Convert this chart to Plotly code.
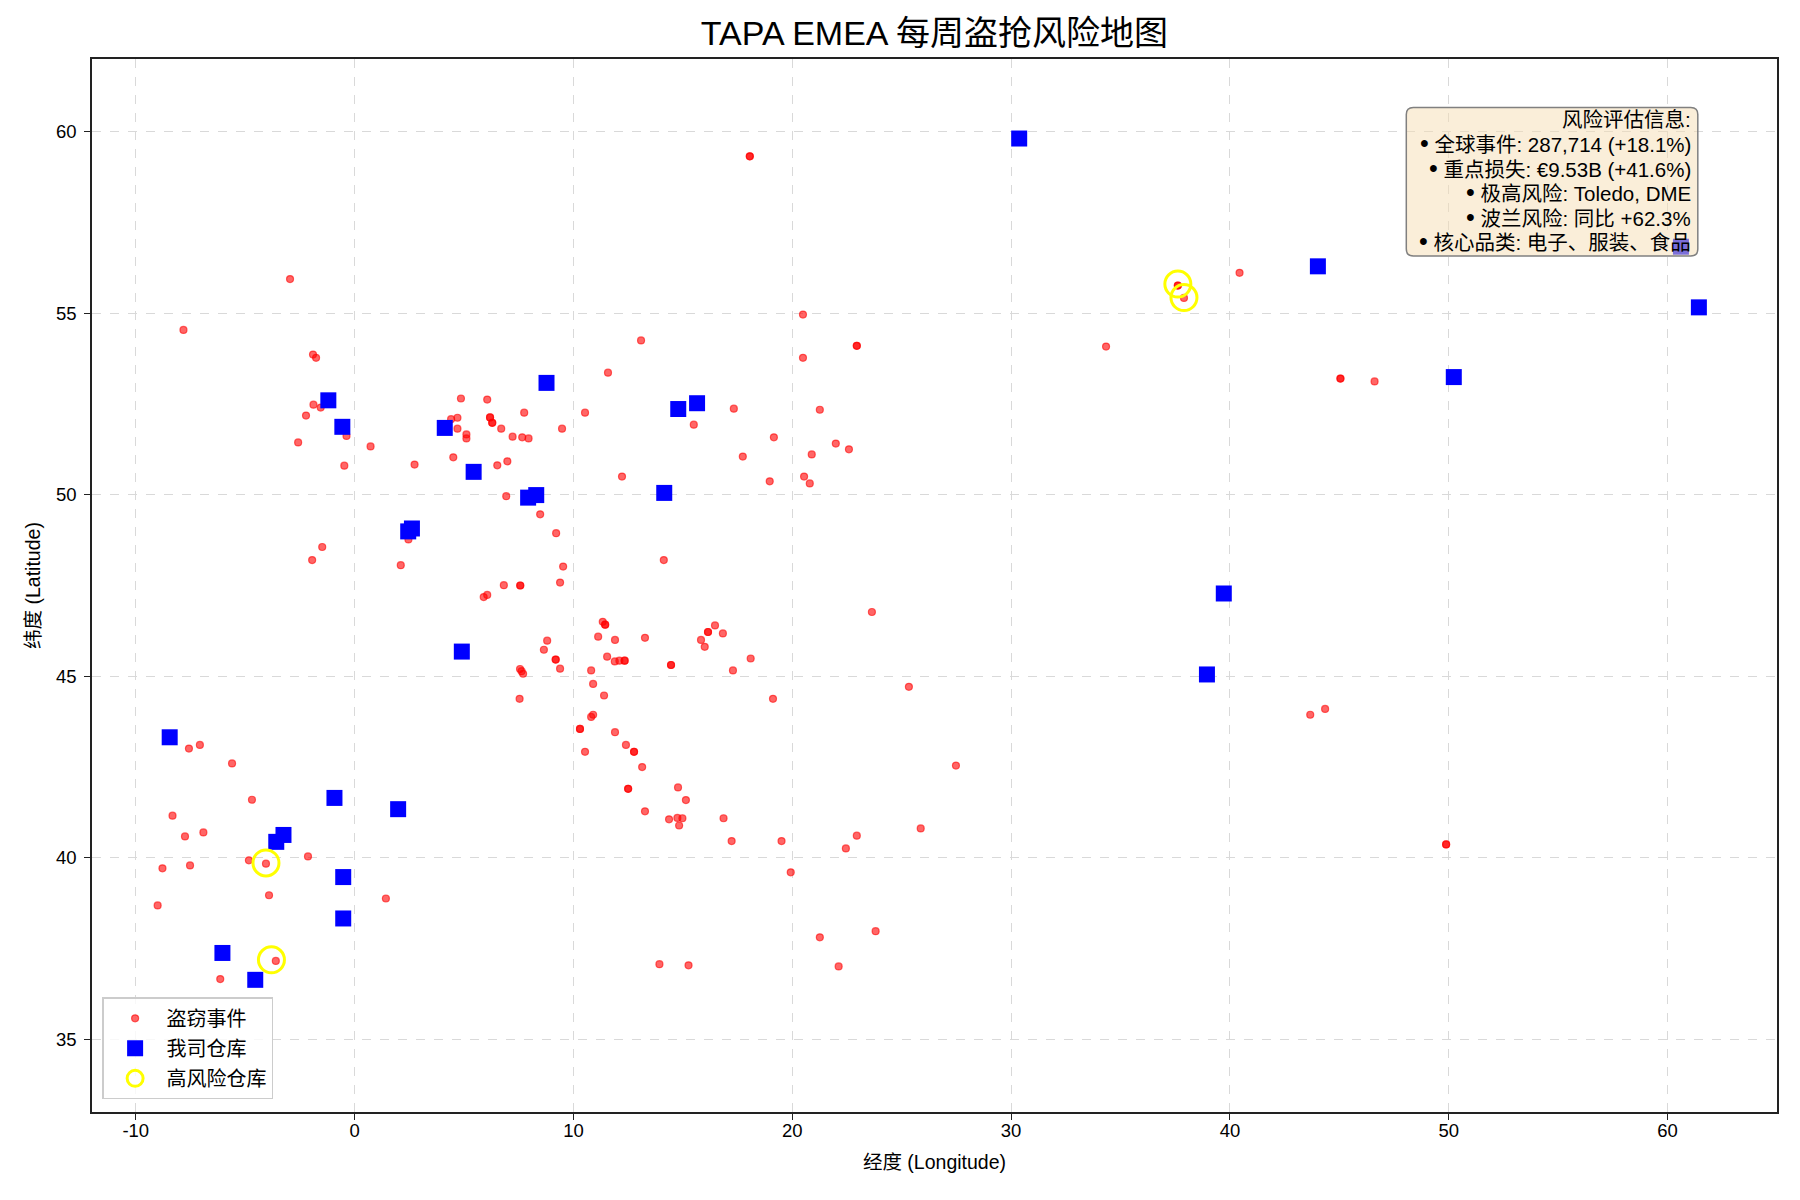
import plotly.graph_objects as go

# theft incidents (lon, lat); repeated entries are stacked points
theft_lon = [
    -9.0, -8.78, -8.32, -7.75, -7.52, -6.91, -7.57, -7.07, -5.6, -4.69, -4.83, -4.05, -3.91, -2.13, 1.43, -3.6, -6.14,
    -2.95, -7.82, -1.9, -1.76, -1.88, -2.22, -1.55, -2.58, -0.37, -0.47, 0.73,
    2.74, 2.46, -1.48, -1.94, 2.11,
    4.86, 6.06, 4.41, 4.7, 4.7, 5.11, 5.11, 6.19, 6.19, 6.29, 6.29, 6.7, 7.22, 7.66, 7.95, 7.75, 9.48, 4.51,
    6.52, 6.98, 6.93, 8.48, 9.21, 10.53, 11.58, 13.09, 12.22, 14.13,
    9.53, 9.39, 6.82, 7.57, 7.57, 5.9, 6.06,
    8.8, 8.65, 9.19, 9.19, 9.39, 7.56, 7.63, 7.7, 7.54,
    11.34, 11.45, 11.45, 11.13, 11.9, 13.27, 11.54, 11.89, 12.1, 12.34, 12.34, 14.46, 14.46,
    10.81, 10.9, 11.4, 10.81, 10.9, 10.3, 10.3, 10.53, 11.9, 12.4, 12.77, 12.77, 13.14,
    12.5, 12.5, 14.78, 15.14, 13.27, 14.37, 14.75, 14.98, 14.83, 16.86, 17.23, 19.51, 13.93, 15.26,
    15.83, 16.0, 16.15, 16.15, 16.47, 16.83, 18.1, 17.29, 19.12,
    15.5, 17.33, 17.74, 19.16, 21.26, 21.99, 22.59, 20.89, 18.97, 20.54, 20.8, 20.49, 20.49, 22.95, 22.95,
    23.64, 25.33, 27.48, 19.93, 22.45, 22.95, 25.87, 21.26, 23.81, 22.12,
    18.06, 18.06, 34.34, 37.62, 37.62, 37.9, 40.44, 45.05, 45.05, 46.61, 43.67, 44.35, 49.88, 49.88,
]
theft_lat = [
    38.69, 39.71, 41.16, 40.59, 39.79, 40.7, 43.01, 43.11, 42.6, 41.6, 39.93, 39.84, 38.97, 40.04, 38.88, 37.16, 36.66,
    55.94, 54.54, 53.86, 53.77, 52.48, 52.18, 52.4, 51.44, 51.62, 50.8, 51.33,
    50.83, 48.77, 48.56, 48.2, 48.06,
    52.65, 52.62, 52.08, 52.12, 51.82, 51.66, 51.55, 52.13, 52.13, 51.98, 51.98, 51.82, 51.6, 51.58, 51.55, 52.26, 51.82, 51.03,
    50.81, 50.92, 49.96, 49.46, 48.94, 52.26, 53.36, 54.25, 50.5, 48.2,
    48.02, 47.58, 47.51, 47.5, 47.5, 47.18, 47.24,
    45.98, 45.73, 45.46, 45.46, 45.21, 45.2, 45.14, 45.07, 44.38,
    46.5, 46.42, 46.42, 46.09, 46.0, 46.06, 45.54, 45.41, 45.43, 45.43, 45.43, 45.31, 45.31,
    45.16, 44.79, 44.47, 43.88, 43.94, 43.55, 43.55, 42.92, 43.46, 43.11, 42.92, 42.92, 42.5,
    41.9, 41.9, 41.94, 41.59, 41.28, 41.06, 41.1, 41.09, 40.89, 41.09, 40.46, 40.46, 37.07, 37.04,
    46.0, 45.81, 46.22, 46.22, 46.4, 46.18, 45.49, 45.16, 44.38,
    51.93, 52.37, 51.05, 51.58, 52.34, 51.41, 51.25, 51.11, 50.37, 50.5, 50.31, 54.96, 53.77, 54.1, 54.1,
    46.77, 44.71, 42.54, 39.6, 40.26, 40.61, 40.81, 37.81, 37.98, 37.01,
    59.32, 59.32, 54.08, 55.76, 55.76, 55.42, 56.11, 53.2, 53.2, 53.12, 43.94, 44.1, 40.37, 40.37,
]

# company warehouses
wh_lon = [30.37, 44.02, 61.43, 60.61, 50.23, 39.72, 38.95,
          -1.2, -0.56, 4.12, 8.77, 5.44, 7.93, 8.3, 2.45, 2.62, 14.79, 15.65, 14.15, 4.9,
          -8.45, -0.92, 1.99, -3.25, -3.58, -0.52, -0.52, -6.04, -4.54]
wh_lat = [59.81, 56.29, 55.16, 56.83, 53.24, 47.28, 45.05,
          52.6, 51.87, 51.84, 53.08, 50.63, 49.92, 49.99, 48.99, 49.07, 52.36, 52.52, 50.05, 45.68,
          43.32, 41.65, 41.34, 40.63, 40.44, 39.47, 38.33, 37.38, 36.64]

# high-risk warehouses
risk_lon = [-4.05, -3.8, 37.62, 37.9]
risk_lat = [39.86, 37.19, 55.8, 55.43]

# tick values / labels (plain hyphen minus like the reference)
x_ticks = [-10, 0, 10, 20, 30, 40, 50, 60]
x_tick_labels = ["-10", "0", "10", "20", "30", "40", "50", "60"]
y_ticks = [35, 40, 45, 50, 55, 60]
y_tick_labels = ["35", "40", "45", "50", "55", "60"]

info_title = "风险评估信息:"
info_items = [
    "全球事件: 287,714 (+18.1%)",
    "重点损失: €9.53B (+41.6%)",
    "极高风险: Toledo, DME",
    "波兰风险: 同比 +62.3%",
    "核心品类: 电子、服装、食品",
]

FONT = "Arial, 'Liberation Sans', 'Noto Sans CJK SC', sans-serif"

fig = go.Figure()

fig.add_trace(go.Scatter(
    x=theft_lon, y=theft_lat, mode="markers", name="盗窃事件", legendgroup="a",
    marker=dict(symbol="circle", size=7, color="rgba(255,0,0,0.6)",
                line=dict(color="rgba(255,0,0,0.6)", width=1.2)),
))
fig.add_trace(go.Scatter(
    x=wh_lon, y=wh_lat, mode="markers", name="我司仓库", legendgroup="b",
    marker=dict(symbol="square", size=16, color="#0000ff", line=dict(width=0)),
))
fig.add_trace(go.Scatter(
    x=risk_lon, y=risk_lat, mode="markers", name="高风险仓库", legendgroup="c",
    marker=dict(symbol="circle-open", size=26, color="#ffff00",
                line=dict(color="#ffff00", width=3)),
))

axis_common = dict(
    showline=True, mirror=True, linecolor="#222222", linewidth=1.5,
    ticks="outside", ticklen=6, tickwidth=1.2, tickcolor="#222222",
    showgrid=True, gridcolor="#d9d9d9", gridwidth=1.2, griddash="dash",
    zeroline=False, tickfont=dict(size=18.5, color="black"),
)

fig.update_layout(
    width=1800, height=1200,
    paper_bgcolor="white", plot_bgcolor="white",
    font=dict(family=FONT, color="black"),
    margin=dict(l=84, r=31, t=51, b=96),
    title=dict(text="TAPA EMEA 每周盗抢风险地图", x=0.5, xanchor="center", xref="paper",
               y=1 - 25 / 1200, yref="container", yanchor="middle",
               font=dict(size=34, color="black")),
    xaxis=dict(range=[-12, 65], tickvals=x_ticks, ticktext=x_tick_labels, ticklabelstandoff=-5,
               title=dict(text="经度 (Longitude)", font=dict(size=19.5), standoff=15),
               **axis_common),
    yaxis=dict(range=[33, 62], tickvals=y_ticks, ticktext=y_tick_labels, ticklabelstandoff=4,
               title=dict(text="纬度 (Latitude)", font=dict(size=19.5), standoff=10),
               **axis_common),
    legend=dict(x=0.006, y=0.012, xanchor="left", yanchor="bottom",
                bgcolor="rgba(255,255,255,0.8)", bordercolor="#cccccc", borderwidth=1.5,
                font=dict(size=20), itemwidth=53, tracegroupgap=1),
    showlegend=True,
)

# info box: rounded background drawn in paper units, one annotation per text line
x0, x1, y0, y1 = 0.780, 0.953, 0.813, 0.954
rx, ry = 7 / 1685, 7 / 1053
box_path = (
    f"M {x0 + rx},{y0} L {x1 - rx},{y0} Q {x1},{y0} {x1},{y0 + ry} "
    f"L {x1},{y1 - ry} Q {x1},{y1} {x1 - rx},{y1} "
    f"L {x0 + rx},{y1} Q {x0},{y1} {x0},{y1 - ry} "
    f"L {x0},{y0 + ry} Q {x0},{y0} {x0 + rx},{y0} Z"
)
fig.add_shape(
    type="path", xref="paper", yref="paper", path=box_path,
    fillcolor="rgba(245,222,179,0.5)", line=dict(color="#808080", width=1.5), layer="above",
)
bullet = "<span style='font-size:25px'>•</span> "
info_lines = [info_title] + [bullet + item for item in info_items]
for i, line in enumerate(info_lines):
    fig.add_annotation(
        xref="paper", yref="paper", x=0.950, y=0.943 - i * 0.0232,
        xanchor="right", yanchor="middle", text=line, showarrow=False,
        font=dict(size=20.5, color="black"),
    )

fig.write_html("out.html")
